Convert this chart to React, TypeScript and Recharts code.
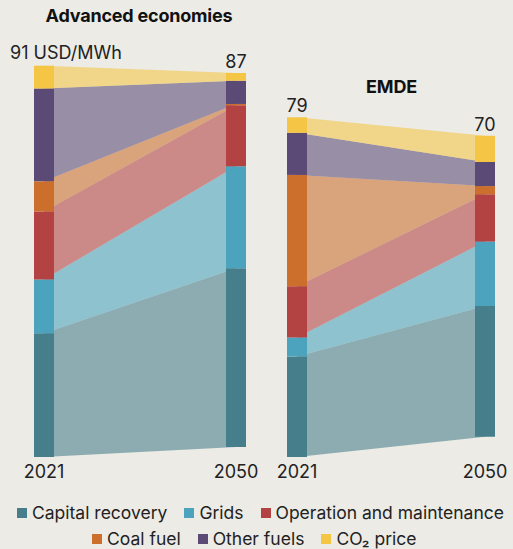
import React from "react";
import { ComposedChart, Area, Bar, XAxis, YAxis, LabelList } from "recharts";

const years = ["2021", "2050"];

const seriesKeys = ["capital", "grids", "om", "coal", "other", "co2"];
const seriesNames = [
  "Capital recovery",
  "Grids",
  "Operation and maintenance",
  "Coal fuel",
  "Other fuels",
  "CO₂ price",
];
const seriesColors = ["#467e8c", "#4ba3be", "#b34343", "#cc6e2c", "#5b4a76", "#f5c646"];

// USD/MWh
const advCapital = [28.8, 41.6];
const advGrids = [12.5, 23.7];
const advOM = [15.8, 14.2];
const advCoal = [7.0, 0.3];
const advOther = [21.6, 5.4];
const advCO2 = [5.3, 1.8];
const advTotals = [91, 87];
const advBase = [0, 2.3]; // 2050 column floats a little above the baseline

const emdeCapital = [23.4, 30.4];
const emdeGrids = [4.4, 15.0];
const emdeOM = [11.9, 11.0];
const emdeCoal = [25.9, 1.9];
const emdeOther = [9.8, 5.6];
const emdeCO2 = [3.6, 6.1];
const emdeTotals = [79, 70];
const emdeBase = [0, 4.7];

const BG = "#ecebe6";
const INK = "#222222";
const FONT = "Inter, 'Noto Sans', sans-serif";

const buildRows = (base: number[], cols: number[][]) =>
  years.map((_, i) => {
    const row: Record<string, number> = { x: i, base: base[i] };
    seriesKeys.forEach((k, j) => (row[k] = cols[j][i]));
    return row;
  });

const advRows = buildRows(advBase, [advCapital, advGrids, advOM, advCoal, advOther, advCO2]);
const emdeRows = buildRows(emdeBase, [emdeCapital, emdeGrids, emdeOM, emdeCoal, emdeOther, emdeCO2]);

interface PanelProps {
  title: string;
  titleTop: number;
  titleShift: number;
  rows: Record<string, number>[];
  totals: number[];
  unit?: string;
  left: number;
  width: number;
  marginLeft: number;
  marginRight: number;
}

const Panel: React.FC<PanelProps> = ({
  title,
  titleTop,
  titleShift,
  rows,
  totals,
  unit,
  left,
  width,
  marginLeft,
  marginRight,
}) => {
  const renderTotal = (props: any) => {
    const { x, y, width: w, index } = props;
    const cx = Number(x) + Number(w) / 2;
    if (unit && index === 0) {
      return (
        <text x={cx - 34} y={Number(y) - 7} textAnchor="start" fontSize={18} fill={INK} fontFamily={FONT}>
          {`${totals[index]} ${unit}`}
        </text>
      );
    }
    return (
      <text x={cx} y={Number(y) - 5} textAnchor="middle" fontSize={18} fill={INK} fontFamily={FONT}>
        {totals[index]}
      </text>
    );
  };

  return (
    <div style={{ position: "absolute", left, top: 0, width, height: 500 }}>
      <div
        style={{
          position: "absolute",
          top: titleTop,
          left: titleShift,
          width,
          textAlign: "center",
          fontWeight: 700,
          fontSize: 18,
          color: "#111",
          fontFamily: FONT,
          letterSpacing: -0.2,
        }}
      >
        {title}
      </div>
      <ComposedChart
        width={width}
        height={500}
        data={rows}
        margin={{ top: 27, right: marginRight, bottom: 13, left: marginLeft }}
        style={{ position: "absolute", top: 0, left: 0 }}
      >
        <XAxis
          type="number"
          dataKey="x"
          domain={[0, 1]}
          ticks={[0, 1]}
          interval={0}
          tickFormatter={(v) => years[v]}
          axisLine={false}
          tickLine={false}
          height={30}
          tick={{ fontSize: 18, fill: INK, fontFamily: FONT }}
        />
        <YAxis hide domain={[0, 100]} />
        <Area
          dataKey="base"
          stackId="a"
          type="linear"
          stroke="none"
          fill="none"
          fillOpacity={0}
          isAnimationActive={false}
        />
        {seriesKeys.map((k, j) => (
          <Area
            key={`a-${k}`}
            dataKey={k}
            stackId="a"
            type="linear"
            stroke="none"
            fill={seriesColors[j]}
            fillOpacity={0.58}
            isAnimationActive={false}
          />
        ))}
        <Bar dataKey="base" stackId="b" barSize={20} fill="none" fillOpacity={0} isAnimationActive={false} />
        {seriesKeys.map((k, j) => (
          <Bar
            key={`b-${k}`}
            dataKey={k}
            stackId="b"
            barSize={20}
            fill={seriesColors[j]}
            isAnimationActive={false}
          >
            {j === seriesKeys.length - 1 && <LabelList dataKey={k} content={renderTotal} />}
          </Bar>
        ))}
      </ComposedChart>
    </div>
  );
};

const LegendItem: React.FC<{ i: number }> = ({ i }) => (
  <div style={{ display: "flex", alignItems: "center", marginRight: 17, whiteSpace: "nowrap" }}>
    <span style={{ width: 10, height: 10, background: seriesColors[i], marginRight: 5, display: "inline-block" }} />
    <span>{seriesNames[i]}</span>
  </div>
);

export default function App() {
  return (
    <div
      style={{
        position: "absolute",
        left: 0,
        top: 0,
        width: 513,
        height: 549,
        background: BG,
        overflow: "hidden",
        fontFamily: FONT,
      }}
    >
      <Panel
        title="Advanced economies"
        titleTop={5}
        titleShift={9}
        rows={advRows}
        totals={advTotals}
        unit="USD/MWh"
        left={0}
        width={260}
        marginLeft={44}
        marginRight={24}
      />
      <Panel
        title="EMDE"
        titleTop={76}
        titleShift={5}
        rows={emdeRows}
        totals={emdeTotals}
        left={260}
        width={253}
        marginLeft={37}
        marginRight={28}
      />
      <div
        style={{
          position: "absolute",
          top: 503,
          left: 17,
          display: "flex",
          fontSize: 17.5,
          color: INK,
          lineHeight: "20px",
        }}
      >
        {[0, 1, 2].map((i) => (
          <LegendItem key={i} i={i} />
        ))}
      </div>
      <div
        style={{
          position: "absolute",
          top: 529,
          left: 92,
          display: "flex",
          fontSize: 17.5,
          color: INK,
          lineHeight: "20px",
        }}
      >
        {[3, 4, 5].map((i) => (
          <LegendItem key={i} i={i} />
        ))}
      </div>
    </div>
  );
}
